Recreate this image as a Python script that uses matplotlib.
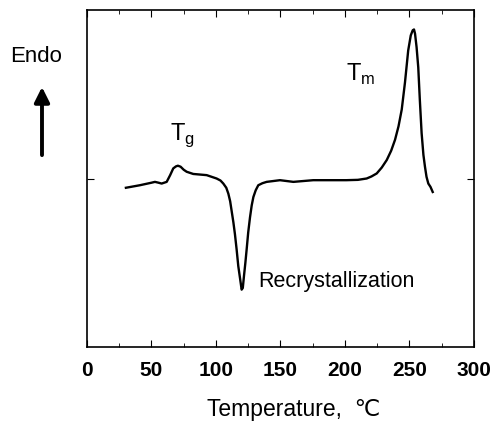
import matplotlib
matplotlib.use("Agg")
import matplotlib.pyplot as plt

plt.rcParams['font.family'] = ['Liberation Sans', 'DejaVu Sans']

# DSC trace (temperature in C, heat flow in arbitrary units)
temp = [30.2, 41, 50, 52.7, 55.5, 57.9, 61.8, 64.5, 66.9, 69, 70.5, 72.6, 75,
        77.3, 82.4, 92.8, 100.5, 103.5, 105.7, 108, 109.6, 111, 112.1, 113.5,
        114.7, 116, 117.3, 118.8, 119.9, 120.8, 121.7, 122.8, 123.8, 125,
        126.4, 127.7, 129, 130.8, 132.8, 136, 139.3, 149.6, 160, 175.4, 201,
        210, 216.8, 220.5, 224.6, 228.5, 232.4, 235.8, 238.8, 241.5, 244,
        246.5, 249, 251, 252.5, 253.5, 254.3, 255.5, 256.8, 258, 259.4, 260.8,
        262, 263.2, 264.6, 266.3, 268]
flow = [-0.055, -0.04, -0.025, -0.02, -0.025, -0.03, -0.02, 0.02, 0.06, 0.072,
        0.076, 0.07, 0.052, 0.04, 0.027, 0.02, 0.0, -0.012, -0.03, -0.055,
        -0.09, -0.135, -0.19, -0.26, -0.33, -0.42, -0.52, -0.6, -0.66, -0.65,
        -0.58, -0.5, -0.42, -0.32, -0.23, -0.16, -0.11, -0.07, -0.04, -0.028,
        -0.02, -0.01, -0.02, -0.01, -0.01, -0.008, 0.0, 0.012, 0.03, 0.065,
        0.11, 0.165, 0.23, 0.31, 0.41, 0.57, 0.76, 0.85, 0.88, 0.885, 0.86,
        0.78, 0.66, 0.47, 0.27, 0.14, 0.07, 0.01, -0.03, -0.05, -0.08]

xticks = [0, 50, 100, 150, 200, 250, 300]
minor_ticks = [25, 75, 125, 175, 225, 275]

fig = plt.figure(figsize=(4.94, 4.21), dpi=100)
ax = fig.add_axes([0.176, 0.176, 0.7835, 0.8])

ax.plot(temp, flow, color='black', lw=1.7)

ax.set_xlim(0, 300)
ax.set_ylim(-1.0, 1.0)
ax.set_xticks(xticks)
ax.set_xticks(minor_ticks, minor=True)
ax.set_xticklabels([str(t) for t in xticks], fontsize=15, fontweight='bold')
ax.set_yticks([0])
ax.set_yticklabels([])
ax.tick_params(direction='in', which='major', length=5, top=True, right=True, pad=10)
ax.tick_params(direction='in', which='minor', length=3, top=True)
for s in ax.spines.values():
    s.set_linewidth(1.2)

ax.set_xlabel('Temperature,  ℃', fontsize=16.5, labelpad=13, x=0.535)

ax.text(64, 0.26, r'T$_\mathregular{g}$', fontsize=17, ha='left', va='center')
ax.text(201, 0.62, r'T$_\mathregular{m}$', fontsize=17, ha='left', va='center')
ax.text(133, -0.61, 'Recrystallization', fontsize=15.5, ha='left', va='center')

fig.text(0.073, 0.865, 'Endo', fontsize=16, ha='center', va='center')
fig.add_artist(matplotlib.patches.FancyArrowPatch(
    (0.085, 0.625), (0.085, 0.8), transform=fig.transFigure,
    arrowstyle='-|>,head_length=9,head_width=4.5', color='black', lw=2.8))

fig.savefig('out.png', dpi=100)
